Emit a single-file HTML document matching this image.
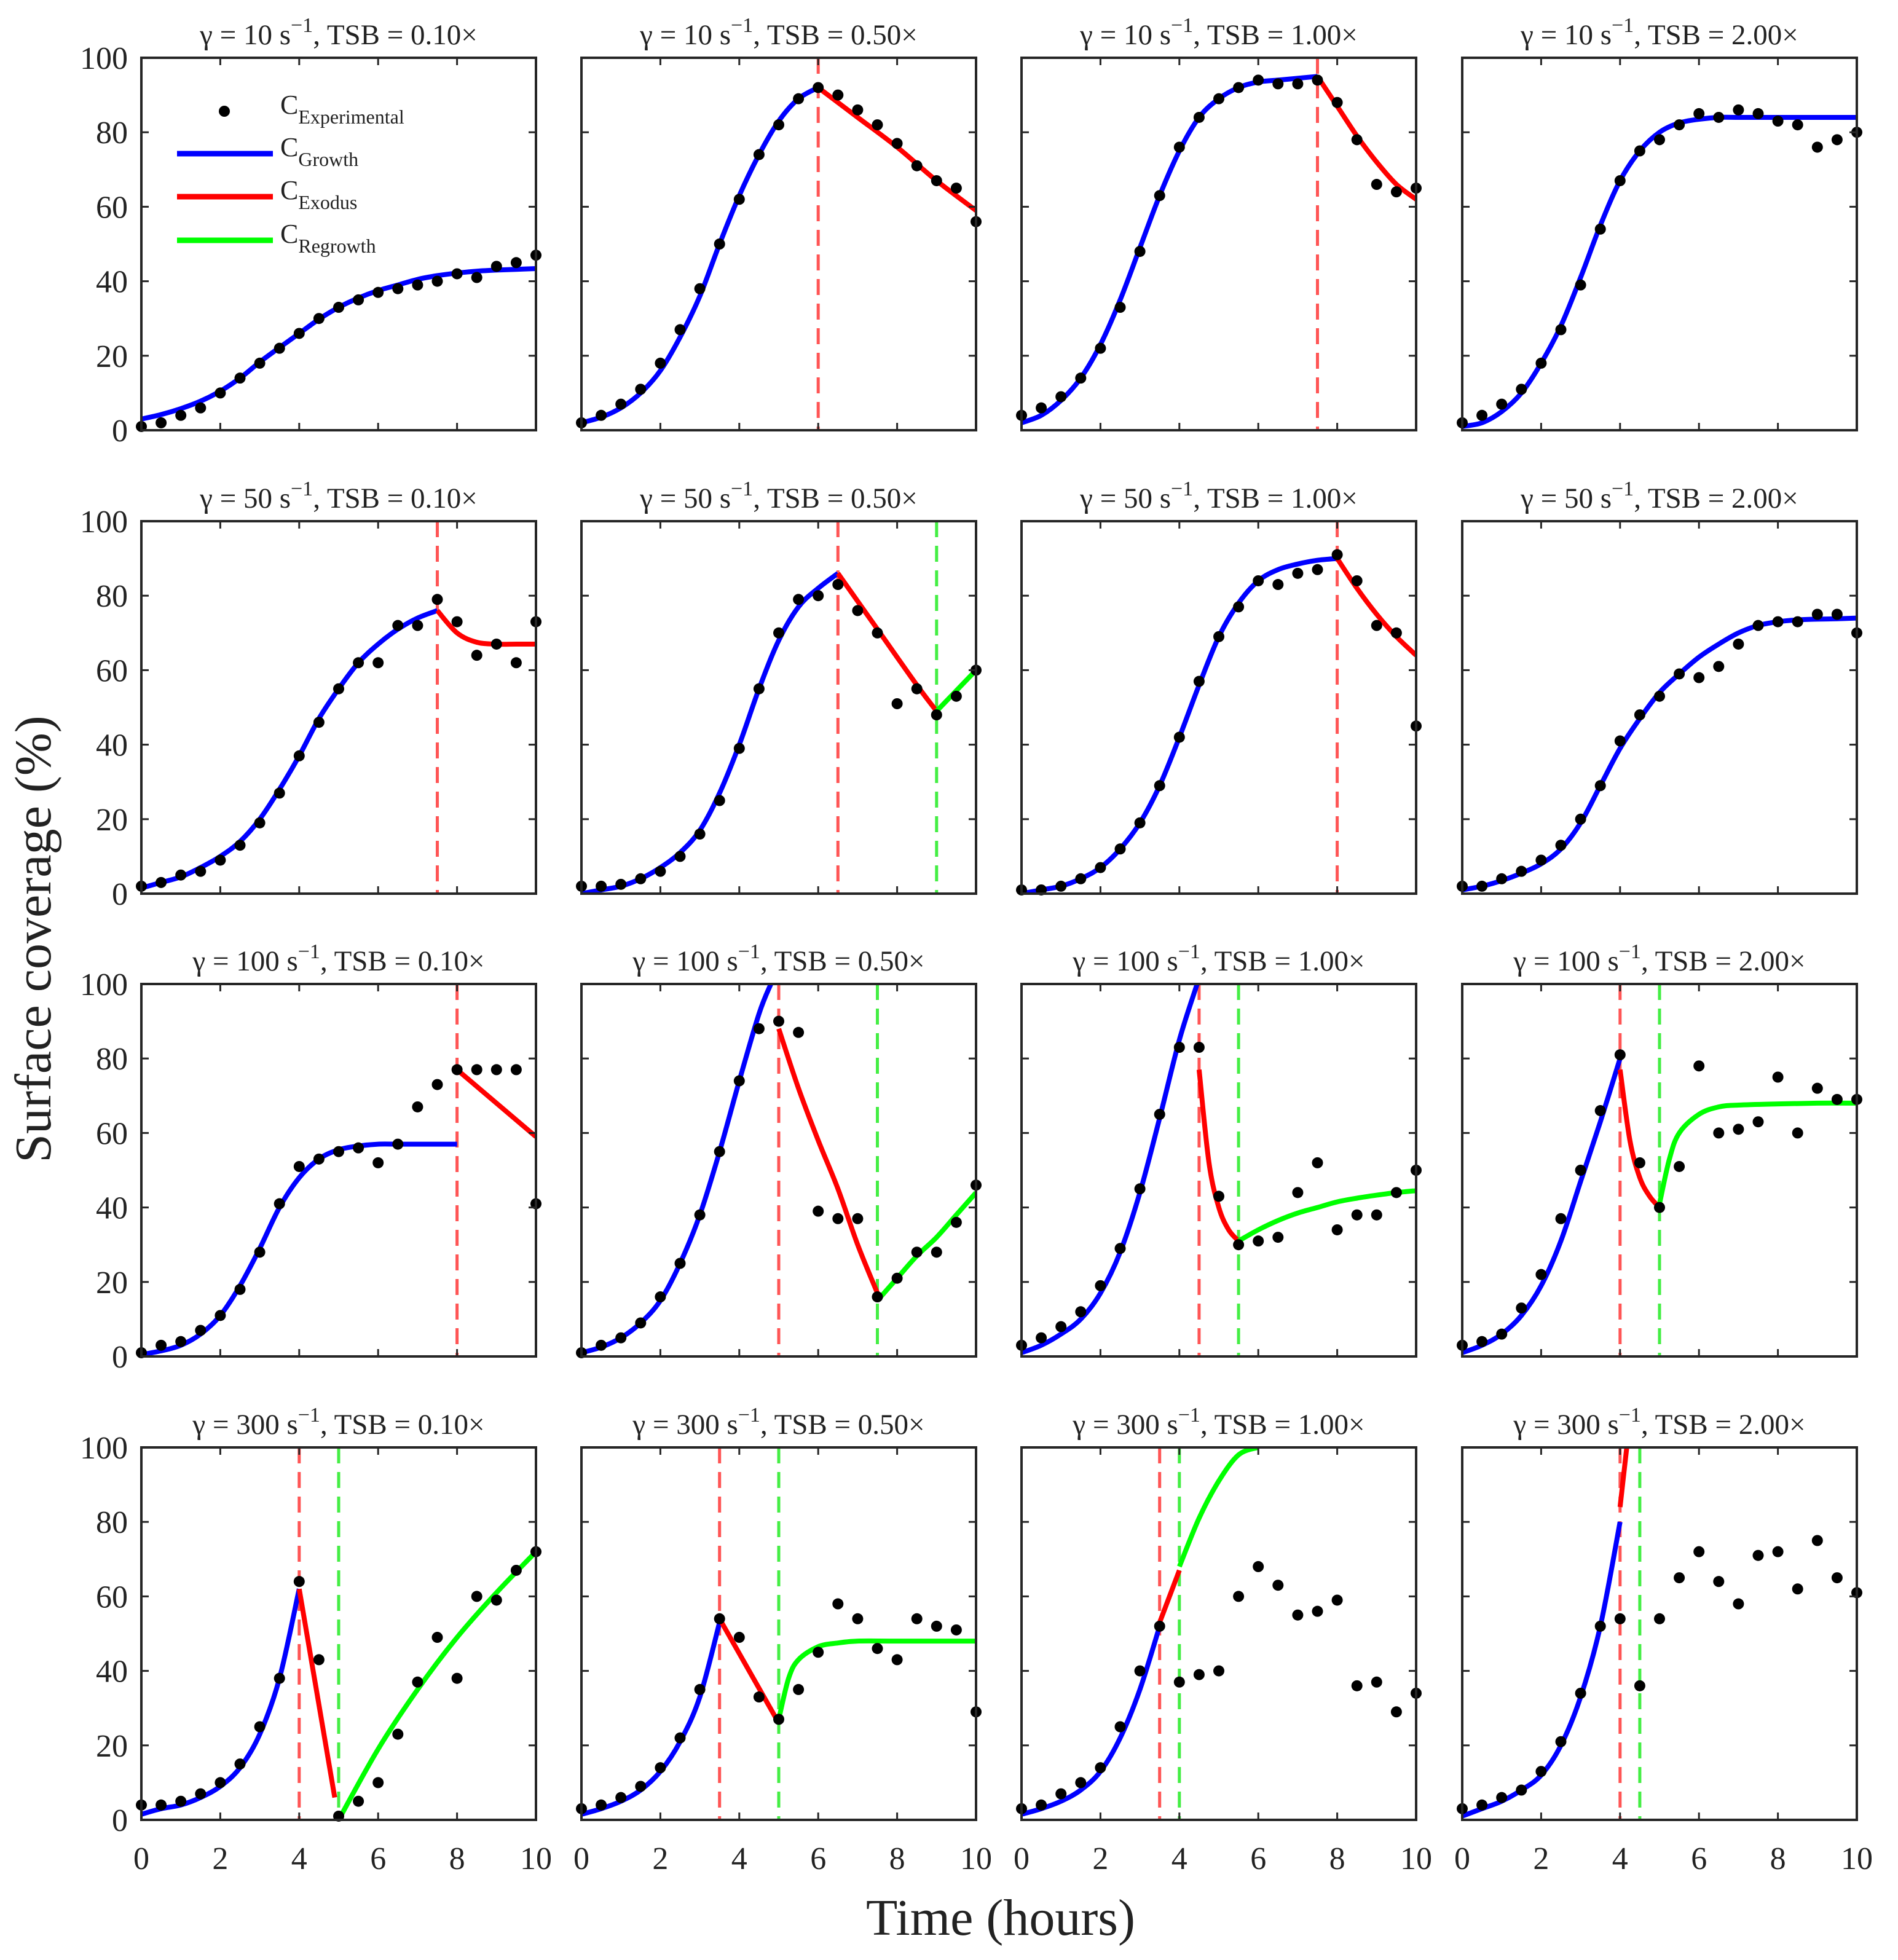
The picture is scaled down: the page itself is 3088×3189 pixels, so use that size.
<!DOCTYPE html>
<html><head><meta charset="utf-8">
<style>
html,body{margin:0;padding:0;background:#fff;}
svg{display:block;font-family:"Liberation Serif","DejaVu Serif",serif;}
</style></head>
<body>
<svg id="fig" width="3088" height="3189" viewBox="0 0 3088 3189" xmlns="http://www.w3.org/2000/svg">
<rect x="0" y="0" width="3088" height="3189" fill="#fff"/>
<text x="0" y="0" transform="translate(82,1528) rotate(-90)" text-anchor="middle" font-size="84" fill="#222">Surface coverage (%)</text>
<text x="1628" y="3148" text-anchor="middle" font-size="84" fill="#222">Time (hours)</text>
</svg>
<script>
// ---- data ----
var times = [0,0.5,1,1.5,2,2.5,3,3.5,4,4.5,5,5.5,6,6.5,7,7.5,8,8.5,9,9.5,10];
var xTicks = [0,2,4,6,8,10];
var yTicks = [0,20,40,60,80,100];
var shearRates = [10,50,100,300];
var tsbLabels = ["0.10","0.50","1.00","2.00"];

var expData = [
 [1,2,4,6,10,14,18,22,26,30,33,35,37,38,39,40,42,41,44,45,47],
 [2,4,7,11,18,27,38,50,62,74,82,89,92,90,86,82,77,71,67,65,56],
 [4,6,9,14,22,33,48,63,76,84,89,92,94,93,93,94,88,78,66,64,65],
 [2,4,7,11,18,27,39,54,67,75,78,82,85,84,86,85,83,82,76,78,80],
 [2,3,5,6,9,13,19,27,37,46,55,62,62,72,72,79,73,64,67,62,73],
 [2,2,2.5,4,6,10,16,25,39,55,70,79,80,83,76,70,51,55,48,53,60],
 [1,1,2,4,7,12,19,29,42,57,69,77,84,83,86,87,91,84,72,70,45],
 [2,2,4,6,9,13,20,29,41,48,53,59,58,61,67,72,73,73,75,75,70],
 [1,3,4,7,11,18,28,41,51,53,55,56,52,57,67,73,77,77,77,77,41],
 [1,3,5,9,16,25,38,55,74,88,90,87,39,37,37,16,21,28,28,36,46],
 [3,5,8,12,19,29,45,65,83,83,43,30,31,32,44,52,34,38,38,44,50],
 [3,4,6,13,22,37,50,66,81,52,40,51,78,60,61,63,75,60,72,69,69],
 [4,4,5,7,10,15,25,38,64,43,1,5,10,23,37,49,38,60,59,67,72],
 [3,4,6,9,14,22,35,54,49,33,27,35,45,58,54,46,43,54,52,51,29],
 [3,4,7,10,14,25,40,52,37,39,40,60,68,63,55,56,59,36,37,29,34],
 [3,4,6,8,13,21,34,52,54,36,54,65,72,64,58,71,72,62,75,65,61]
];

var growthT = [
 [0,0.5,1,1.5,2,2.5,3,3.5,4,4.5,5,5.5,6,6.5,7,7.5,8,8.5,9,9.5,10],
 [0,0.5,1,1.5,2,2.5,3,3.5,4,4.5,5,5.5,6],
 [0,0.5,1,1.5,2,2.5,3,3.5,4,4.5,5,5.5,6,6.5,7,7.5],
 [0,0.5,1,1.5,2,2.5,3,3.5,4,4.5,5,5.5,6,6.5,7,7.5,8,8.5,9,9.5,10],
 [0,0.5,1,1.5,2,2.5,3,3.5,4,4.5,5,5.5,6,6.5,7,7.5],
 [0,0.5,1,1.5,2,2.5,3,3.5,4,4.5,5,5.5,6,6.5],
 [0,0.5,1,1.5,2,2.5,3,3.5,4,4.5,5,5.5,6,6.5,7,7.5,8],
 [0,0.5,1,1.5,2,2.5,3,3.5,4,4.5,5,5.5,6,6.5,7,7.5,8,8.5,9,9.5,10],
 [0,0.5,1,1.5,2,2.5,3,3.5,4,4.5,5,5.5,6,6.5,7,7.5,8],
 [0,0.5,1,1.5,2,2.5,3,3.5,4,4.5,4.8],
 [0,0.5,1,1.5,2,2.5,3,3.5,4,4.45],
 [0,0.5,1,1.5,2,2.5,3,3.5,4],
 [0,0.5,1,1.5,2,2.5,3,3.5,4],
 [0,0.5,1,1.5,2,2.5,3,3.5],
 [0,0.5,1,1.5,2,2.5,3,3.5],
 [0,0.5,1,1.5,2,2.5,3,3.5,4]
];
var growthY = [
 [3,4.2,5.8,7.8,10.5,14,18.3,22.2,26,29.8,33,35.5,37.5,39,40.5,41.5,42.2,42.7,43,43.2,43.4],
 [2,3.5,6,10,16,25,36,50,63,74,83,89,92],
 [2,4,8,14,23,35,49,63,75,84,89,92,93.5,94,94.5,95],
 [1,2,5,10,18,28,41,55,67,75,80,82.5,83.5,84,84,84,84,84,84,84,84],
 [1.5,3,4.5,7,10,14,20,28,37,47,55,62,67,71,74,76],
 [0,1,2,4,7,11,17,27,40,55,68,77,82,86],
 [0,1,2,4,7,12,19,29,42,56,69,78,84,87,88.5,89.5,90],
 [1,2,3.5,5.5,8,12,19,29,39,47,54,59,63.5,67,70,72,73,73.5,73.7,73.8,74],
 [0.5,1.5,3,6,11,19,29,40,48,53,55.5,56.5,57,57,57,57,57],
 [1,2.5,5,9,15,25,38,55,74,92,100],
 [1,3,6,10,17,28,44,64,85,100],
 [1,3,6,11,19,31,47,63,80],
 [1.5,3,4,6,9,14,23,38,62],
 [1.5,3,5,8,13,21,33,53],
 [1.5,3,5,8,13,22,35,52],
 [1,3,5,8,12,20,33,52,80]
];

var exodusT = [
 [], [6,7,8,9,10], [7.5,8,8.5,9,9.5,10], [],
 [7.5,8,8.5,9,9.5,10], [6.5,7.5,8.5,9], [8,8.5,9,9.5,10], [],
 [8,10], [5,5.5,6,6.5,7,7.5], [4.5,4.75,5,5.25,5.5], [4,4.25,4.5,4.75,5],
 [4,4.9], [3.5,5], [3.5,4], [4,4.17]
];
var exodusY = [
 [], [92,84,76,67,59], [95,87,79,72,66,62], [],
 [76,70,67.5,67,67,67], [86,71,56,49], [90,82,75,69,64], [],
 [77,59], [88,72,58,45,30,17], [77,52,40,34,31], [77,58,48,43,40],
 [62,6], [54,26], [53,67], [84,100]
];
var regrowthT = [
 [], [], [], [],
 [], [9,10], [], [],
 [], [7.5,8,8.5,9,9.5,10], [5.5,6,6.5,7,7.5,8,8.5,9,9.5,10], [5,5.25,5.5,6,6.5,7,8,9,10],
 [5,6,7,8,9,10], [5,5.25,5.5,6,6.5,7,8,10], [4,4.5,5,5.5,6], []
];
var regrowthY = [
 [], [], [], [],
 [], [49,60], [], [],
 [], [15,21,27,32,38,44], [31,34,36.5,38.5,40,41.5,42.5,43.3,44,44.5], [41,53,60,65,67,67.5,67.8,68,68],
 [0,19,35,49,61,72], [27,38,43,46.5,47.5,48,48,48], [68,81,91,98,100], []
];
var exodusStart = [null,6,7.5,null, 7.5,6.5,8,null, 8,5,4.5,4, 4,3.5,3.5,4];
var regrowthStart = [null,null,null,null, null,9,null,null, null,7.5,5.5,5, 5,5,4,4.5];

// ---- layout ----
var colLeft = [230,946,1662,2379];
var rowTop = [94,848,1601,2355];
var PW = 642, PH = 606;
var NS = "http://www.w3.org/2000/svg";
var svg = document.getElementById('fig');
function mk(tag, attrs, parent){
  var e = document.createElementNS(NS, tag);
  for (var k in attrs) e.setAttribute(k, attrs[k]);
  (parent||svg).appendChild(e);
  return e;
}
function smoothPath(pts){
  if (pts.length < 3){
    return pts.map(function(p,i){return (i?'L':'M')+p[0].toFixed(1)+','+p[1].toFixed(1);}).join('');
  }
  var d = 'M'+pts[0][0].toFixed(1)+','+pts[0][1].toFixed(1);
  for (var i=0;i<pts.length-1;i++){
    var p0=pts[i-1]||pts[i], p1=pts[i], p2=pts[i+1], p3=pts[i+2]||p2;
    var c1x=p1[0]+(p2[0]-p0[0])/6, c1y=p1[1]+(p2[1]-p0[1])/6;
    var c2x=p2[0]-(p3[0]-p1[0])/6, c2y=p2[1]-(p3[1]-p1[1])/6;
    d+='C'+c1x.toFixed(1)+','+c1y.toFixed(1)+' '+c2x.toFixed(1)+','+c2y.toFixed(1)+' '+p2[0].toFixed(1)+','+p2[1].toFixed(1);
  }
  return d;
}

for (var r=0;r<4;r++){
 for (var c=0;c<4;c++){
  var idx = r*4+c;
  var L = colLeft[c], T = rowTop[r];
  var sx = (function(L){return function(t){return L + t/10*PW;};})(L);
  var sy = (function(T){return function(v){return T + PH - v/100*PH;};})(T);
  var g = mk('g', {});
  
  

  var cp = mk('clipPath', {id:'clip'+idx}, g);
  mk('rect', {x:L, y:T-2, width:PW, height:PH+4}, cp);

  var title = mk('text', {x:L+PW/2, y:T-22, 'text-anchor':'middle', 'font-size':'47', fill:'#222'}, g);
  
  
  title.innerHTML = '\u03B3 = '+shearRates[r]+' s<tspan dy="-20" font-size="34">\u22121</tspan><tspan dy="20">, TSB = '+tsbLabels[c]+'\u00D7</tspan>';

  var data = mk('g', {'clip-path':'url(#clip'+idx+')'}, g);

  if (exodusStart[idx]!==null){
    var dl = mk('line', {x1:sx(exodusStart[idx]), x2:sx(exodusStart[idx]), y1:T, y2:T+PH, stroke:'#ff5555', 'stroke-width':'5', 'stroke-dasharray':'26,14'}, data);
    
    
  }
  if (regrowthStart[idx]!==null){
    var gl = mk('line', {x1:sx(regrowthStart[idx]), x2:sx(regrowthStart[idx]), y1:T, y2:T+PH, stroke:'#44ee44', 'stroke-width':'5', 'stroke-dasharray':'26,14'}, data);
    
    
  }

  for (var i=0;i<times.length;i++){
    var dot = mk('circle', {cx:sx(times[i]), cy:sy(expData[idx][i]), r:'9', fill:'#000'}, g);
    
    
  }

  var segs = [[growthT[idx],growthY[idx],'#0000ff','growth-curve'],[exodusT[idx],exodusY[idx],'#ff0000','exodus-curve'],[regrowthT[idx],regrowthY[idx],'#00ff00','regrowth-curve']];
  for (var s=0;s<segs.length;s++){
    var ts=segs[s][0], ys=segs[s][1];
    if (!ts.length) continue;
    var pts = ts.map(function(t,j){return [sx(t), sy(ys[j])];});
    var pth = mk('path', {d:smoothPath(pts), fill:'none', stroke:segs[s][2], 'stroke-width':'8', 'stroke-linejoin':'round'}, data);
    
    
  }

  var fr = mk('rect', {x:L, y:T, width:PW, height:PH, fill:'none', stroke:'#262626', 'stroke-width':'4'}, g);
  
  
  xTicks.forEach(function(t){
    mk('line', {x1:sx(t), x2:sx(t), y1:T+PH, y2:T+PH-12, stroke:'#262626', 'stroke-width':'3'}, g);
    mk('line', {x1:sx(t), x2:sx(t), y1:T, y2:T+12, stroke:'#262626', 'stroke-width':'3'}, g);
    if (r===3){
      var tl = mk('text', {x:sx(t), y:T+PH+80, 'text-anchor':'middle', 'font-size':'52', fill:'#222'}, g);
      
      
      tl.textContent = t;
    }
  });
  yTicks.forEach(function(v){
    mk('line', {x1:L, x2:L+12, y1:sy(v), y2:sy(v), stroke:'#262626', 'stroke-width':'3'}, g);
    mk('line', {x1:L+PW, x2:L+PW-12, y1:sy(v), y2:sy(v), stroke:'#262626', 'stroke-width':'3'}, g);
    if (c===0){
      var yl = mk('text', {x:L-22, y:sy(v)+18, 'text-anchor':'end', 'font-size':'52', fill:'#222'}, g);
      
      
      yl.textContent = v;
    }
  });
 }
}

var lg = mk('g', {});


var legNames = ['Experimental','Growth','Exodus','Regrowth'];
var legColors = [null,'#0000ff','#ff0000','#00ff00'];
var legY = [181,250,320,391];
for (var k=0;k<4;k++){
  if (k===0){
    var ld = mk('circle', {cx:365, cy:legY[k], r:'9', fill:'#000'}, lg);
    
    
  } else {
    var ll = mk('line', {x1:288, x2:444, y1:legY[k], y2:legY[k], stroke:legColors[k], 'stroke-width':'9'}, lg);
    
    
  }
  var lt = mk('text', {x:456, y:legY[k]+4, 'font-size':'44', fill:'#222'}, lg);
  
  
  lt.innerHTML = 'C<tspan dy="16" font-size="32">'+legNames[k]+'</tspan>';
}
</script>
</body></html>
